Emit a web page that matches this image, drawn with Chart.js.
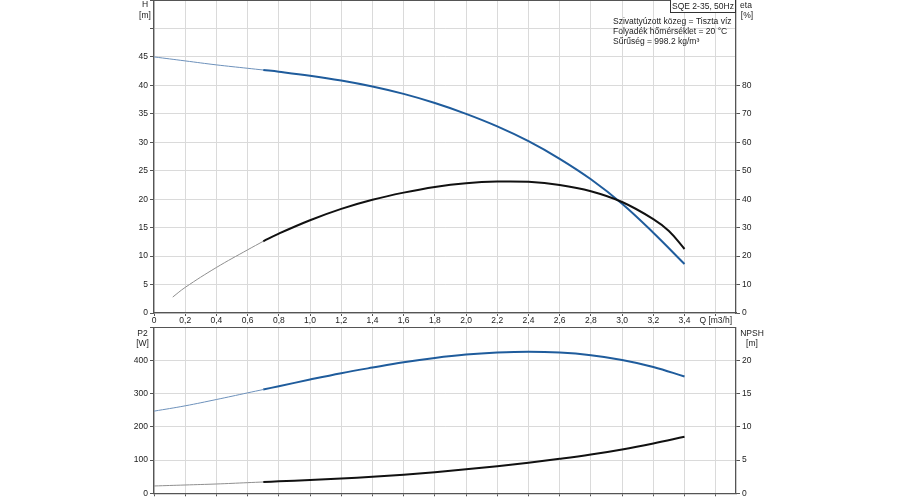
<!DOCTYPE html>
<html><head><meta charset="utf-8">
<script src="https://cdn.jsdelivr.net/npm/chart.js@4.4.0/dist/chart.umd.min.js"></script>
<style>
html,body{margin:0;padding:0;background:#fff;width:900px;height:500px;overflow:hidden;}
.wrap{position:absolute;left:0;width:900px;}
</style></head><body>
<div class="wrap" style="top:0;height:327px"><canvas id="top" width="900" height="327"></canvas></div>
<div class="wrap" style="top:327px;height:173px"><canvas id="bot" width="900" height="173"></canvas></div>
<script>
// ---- data ----
const qTicks = [0,0.2,0.4,0.6,0.8,1.0,1.2,1.4,1.6,1.8,2.0,2.2,2.4,2.6,2.8,3.0,3.2,3.4,3.6];
const hTicks = [0,5,10,15,20,25,30,35,40,45,50,55];
const etaTicks = [0,10,20,30,40,50,60,70,80];
const p2Ticks = [0,100,200,300,400,500];
const npshTicks = [0,5,10,15,20];

const qThin  = [0,0.2,0.4,0.6,0.7];
const qThick = [0.7,0.8,1.0,1.2,1.4,1.6,1.8,2.0,2.2,2.4,2.6,2.8,3.0,3.2,3.4];
const hThin  = [45.0,44.3,43.6,43.0,42.7];
const hThick = [42.7,42.4,41.7,40.85,39.8,38.5,36.9,35.0,32.8,30.2,27.1,23.5,19.2,14.1,8.6];

const qEtaThin  = [0.12,0.2,0.4,0.6,0.7];
const etaThin   = [5.6,9.0,16.0,22.2,25.2];
const qEtaThick = [0.7,0.8,1.0,1.2,1.4,1.6,1.8,2.0,2.2,2.4,2.6,2.8,3.0,3.2,3.3,3.4];
const etaThick  = [25.2,27.9,32.6,36.6,39.8,42.3,44.3,45.6,46.2,46.1,45.0,42.8,39.0,33.0,28.8,22.5];

const p2Thin  = [247,263,282,302,312];
const p2Thick = [312,322,342,361,378,394,407,417,423,425.5,423,415,401,380,351];
const npshThin  = [1.1,1.25,1.4,1.6,1.7];
const npshThick = [1.7,1.8,2.0,2.22,2.48,2.8,3.17,3.6,4.08,4.6,5.18,5.83,6.6,7.5,8.5];

const infoLines = ['Szivattyúzott közeg = Tiszta víz','Folyadék hőmérséklet = 20 °C','Sűrűség = 998.2 kg/m³'];
const titleBox = 'SQE 2-35, 50Hz';

// ---- styles ----
const FONT = 'Liberation Sans, Arial, sans-serif';
const FS = 8.5;
const TXT = '#222';
const GRID = '#dadada';
const AX = '#555';
const BLUE = '#1f5c9c';
const BLUE_THIN = '#6d91bb';
const BLACK = '#111';
const GREY_THIN = '#8f8f8f';

Chart.defaults.font.family = FONT;
Chart.defaults.font.size = FS;
Chart.defaults.color = TXT;

const zip = (xs, ys) => xs.map((x,i)=>({x, y: ys[i]}));
const qFmt = v => v === 0 ? '0' : (Math.abs(v-3.6)<1e-6 ? 'Q [m3/h]' : v.toFixed(1).replace('.', ','));
const setTicks = arr => (s => { s.ticks = arr.map(v=>({value:v})); });

function ds(data, color, width, axis) {
  return {data, borderColor: color, borderWidth: width, pointRadius: 0, fill: false,
          tension: 0.4, yAxisID: axis, clip: false};
}

function framePlugin(texts) {
  return {
    id: 'frame',
    afterDraw(chart) {
      const c = chart.ctx, a = chart.chartArea;
      c.save();
      c.strokeStyle = AX; c.lineWidth = 1.2;
      c.beginPath(); c.moveTo(a.left, a.top + 0.5); c.lineTo(a.right, a.top + 0.5); c.stroke();
      c.fillStyle = TXT; c.font = FS + 'px ' + FONT; c.textBaseline = 'middle';
      texts.forEach(t => { c.textAlign = t.align || 'center'; c.fillText(t.s, t.x, t.y); });
      c.restore();
      if (chart.canvas.id === 'top') {
        c.save();
        c.fillStyle = '#fff'; c.fillRect(670, 0, 66, 12.5);
        c.strokeStyle = '#333'; c.lineWidth = 1; c.strokeRect(670.5, -1, 65, 13.5);
        c.fillStyle = TXT; c.font = FS + 'px ' + FONT; c.textAlign = 'center'; c.textBaseline = 'middle';
        c.fillText(titleBox, 703, 6.5);
        c.textAlign = 'left';
        infoLines.forEach((s,i) => c.fillText(s, 613, 22 + i*9.6));
        c.restore();
      }
    }
  };
}

function yAxis(pos, min, max, ticks, labelMax, width, grid) {
  return {
    type: 'linear', position: pos, min, max,
    afterBuildTicks: setTicks(ticks),
    afterFit: s => { s.width = width; s.paddingTop = 0; s.paddingBottom = 0; },
    ticks: { padding: 2, callback: v => v > labelMax ? '' : String(v), color: TXT },
    grid: { display: true, drawOnChartArea: grid, color: GRID, tickLength: 4, tickColor: AX },
    border: { color: AX, width: 1.3 }
  };
}

function xAxis(height, showLabels) {
  return {
    type: 'linear', min: 0, max: 3.73,
    afterBuildTicks: setTicks(qTicks),
    afterFit: s => { s.height = height; s.paddingLeft = 0; s.paddingRight = 0; },
    ticks: { padding: 0, maxRotation: 0, autoSkip: false, callback: v => showLabels ? qFmt(v) : '' , color: TXT},
    grid: { color: GRID, tickLength: 3, tickColor: AX },
    border: { color: AX, width: 1.3 }
  };
}

new Chart(document.getElementById('top'), {
  type: 'line',
  data: { datasets: [
    ds(zip(qEtaThin, etaThin), GREY_THIN, 1, 'y2'),
    ds(zip(qEtaThick, etaThick), BLACK, 2, 'y2'),
    ds(zip(qThin, hThin), BLUE_THIN, 1, 'y'),
    ds(zip(qThick, hThick), BLUE, 2, 'y'),
  ]},
  options: {
    responsive: false, animation: false, devicePixelRatio: 1,
    layout: { padding: 0 },
    plugins: { legend: { display: false }, tooltip: { enabled: false } },
    scales: {
      x: xAxis(14, true),
      y: yAxis('left', 0, 55, hTicks, 45, 154, true),
      y2: yAxis('right', 0, 110, etaTicks, 80, 164, false)
    }
  },
  plugins: [framePlugin([
    {s:'H', x:145, y:5}, {s:'[m]', x:145, y:16},
    {s:'eta', x:746, y:6}, {s:'[%]', x:747, y:16}
  ])]
});

new Chart(document.getElementById('bot'), {
  type: 'line',
  data: { datasets: [
    ds(zip(qThin, npshThin), GREY_THIN, 1, 'y2'),
    ds(zip(qThick, npshThick), BLACK, 2, 'y2'),
    ds(zip(qThin, p2Thin), BLUE_THIN, 1, 'y'),
    ds(zip(qThick, p2Thick), BLUE, 2, 'y'),
  ]},
  options: {
    responsive: false, animation: false, devicePixelRatio: 1,
    layout: { padding: 0 },
    plugins: { legend: { display: false }, tooltip: { enabled: false } },
    scales: {
      x: xAxis(6.7, false),
      y: yAxis('left', 0, 500, p2Ticks, 400, 154, true),
      y2: yAxis('right', 0, 25, npshTicks, 20, 164, false)
    }
  },
  plugins: [framePlugin([
    {s:'P2', x:142.5, y:6.5}, {s:'[W]', x:142.5, y:17},
    {s:'NPSH', x:752, y:6.5}, {s:'[m]', x:752, y:16.5}
  ])]
});
</script>
</body></html>
